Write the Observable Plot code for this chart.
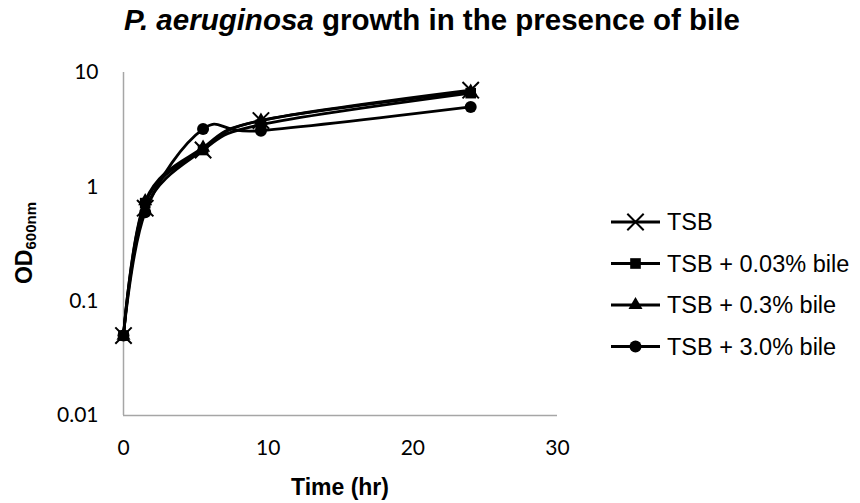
<!DOCTYPE html>
<html>
<head>
<meta charset="utf-8">
<script src="https://cdn.jsdelivr.net/npm/d3@7"></script>
<script src="https://cdn.jsdelivr.net/npm/@observablehq/plot@0.6"></script>
<style>
  html, body { margin: 0; padding: 0; background: #fff; }
  #wrap { position: relative; width: 860px; height: 503px; overflow: hidden; }
  #title { position: absolute; left: 2px; top: 3px; width: 860px; text-align: center;
           font-family: "Liberation Sans", Arial, sans-serif; font-weight: bold; font-size: 29.5px; color: #000; }
  #legend { position: absolute; left: 600px; top: 200px; }
</style>
</head>
<body>
<div id="wrap">
  <div id="title"><i>P. aeruginosa</i> growth in the presence of bile</div>
</div>
<script>
const times = [0, 1.5, 5.5, 9.5, 24];
const seriesNames = ["TSB", "TSB + 0.03% bile", "TSB + 0.3% bile", "TSB + 3.0% bile"];
const seriesSymbols = ["times", "square", "triangle", "circle"];
const tsb = [0.05, 0.65, 2.1, 3.8, 7.0];
const bile003 = [0.05, 0.72, 2.1, 3.5, 6.6];
const bile03 = [0.05, 0.75, 2.2, 3.8, 6.8];
const bile30 = [0.05, 0.6, 3.2, 3.1, 5.0];
const xTicks = [0, 10, 20, 30];
const yTicks = [0.01, 0.1, 1, 10];
const yTickLabels = ["0.01", "0.1", "1", "10"];

const seriesValues = [tsb, bile003, bile03, bile30];
const rows = [];
seriesNames.forEach((s, i) => times.forEach((t, j) => rows.push({series: s, t, od: seriesValues[i][j]})));

const plot = Plot.plot({
  width: 860, height: 503,
  marginLeft: 123, marginRight: 303, marginTop: 72, marginBottom: 88,
  x: {domain: [0, 30]},
  y: {type: "log", domain: [0.01, 10]},
  symbol: {domain: seriesNames, range: seriesSymbols},
  style: {fontFamily: "Lato, 'Open Sans', sans-serif", fontSize: "21px", color: "#000", background: "#fff"},
  marks: [
    Plot.ruleX([0], {stroke: "#a6a6a6", strokeWidth: 1.5}),
    Plot.ruleY([0.01], {stroke: "#a6a6a6", strokeWidth: 1.5}),
    Plot.axisX({ticks: xTicks, tickSize: 0, tickPadding: 25, label: null, fontSize: 21}),
    Plot.axisY({ticks: yTicks, tickSize: 0, tickPadding: 25, label: null, fontSize: 21,
                tickFormat: d => yTickLabels[yTicks.indexOf(d)]}),
    Plot.line(rows, {x: "t", y: "od", z: "series", curve: "cardinal", tension: 0,
                     stroke: "#000", strokeWidth: 2.8}),
    Plot.dot(rows.filter(d => d.series === seriesNames[0]), {x: "t", y: "od", symbol: "series", r: 7.5,
                     fill: "none", stroke: "#000", strokeWidth: 2}),
    Plot.dot(rows.filter(d => d.series === seriesNames[1] || d.series === seriesNames[3]), {x: "t", y: "od", symbol: "series", r: 6,
                     fill: "#000", stroke: "none"}),
    Plot.dot(rows.filter(d => d.series === seriesNames[2]), {x: "t", y: "od", symbol: "series", r: 5.2,
                     fill: "#000", stroke: "none"})
  ]
});
document.getElementById("wrap").appendChild(plot);

const svg = d3.select(plot);
const lab = svg.append("text")
  .attr("transform", "translate(32,243) rotate(-90)")
  .attr("text-anchor", "middle")
  .style("font-family", "'Liberation Sans', Arial, sans-serif")
  .style("font-weight", "bold")
  .style("font-size", "23px");
lab.append("tspan").text("OD");
lab.append("tspan").attr("dy", "0.28em").style("font-size", "15px").text("600nm");

svg.append("text")
  .attr("x", 340).attr("y", 495)
  .attr("text-anchor", "middle")
  .style("font-family", "'Liberation Sans', Arial, sans-serif")
  .style("font-weight", "bold")
  .style("font-size", "23px")
  .text("Time (hr)");

// Legend
const rowH = 41.5;
const lg = d3.select("#wrap").append("svg").attr("id", "legend")
  .attr("width", 260).attr("height", rowH * seriesNames.length + 10);
const symMap = {times: d3.symbolTimes, square: d3.symbolSquare, triangle: d3.symbolTriangle, circle: d3.symbolCircle};
const symR = [7.5, 6, 5.2, 6];
seriesNames.forEach((s, i) => {
  const g = lg.append("g").attr("transform", `translate(0,${22 + i * rowH})`);
  g.append("line").attr("x1", 11).attr("x2", 60).attr("y1", 0).attr("y2", 0)
    .attr("stroke", "#000").attr("stroke-width", 2.8);
  const sym = seriesSymbols[i];
  g.append("path").attr("transform", "translate(35.5,0)")
    .attr("d", d3.symbol(symMap[sym], Math.PI * symR[i] * symR[i])())
    .attr("fill", sym === "times" ? "none" : "#000")
    .attr("stroke", sym === "times" ? "#000" : "none")
    .attr("stroke-width", 2);
  g.append("text").attr("x", 67).attr("y", 0).attr("dy", "0.35em")
    .style("font-family", "'Liberation Sans', Arial, sans-serif")
    .style("font-size", "23.5px")
    .text(s);
});
</script>
</body>
</html>
